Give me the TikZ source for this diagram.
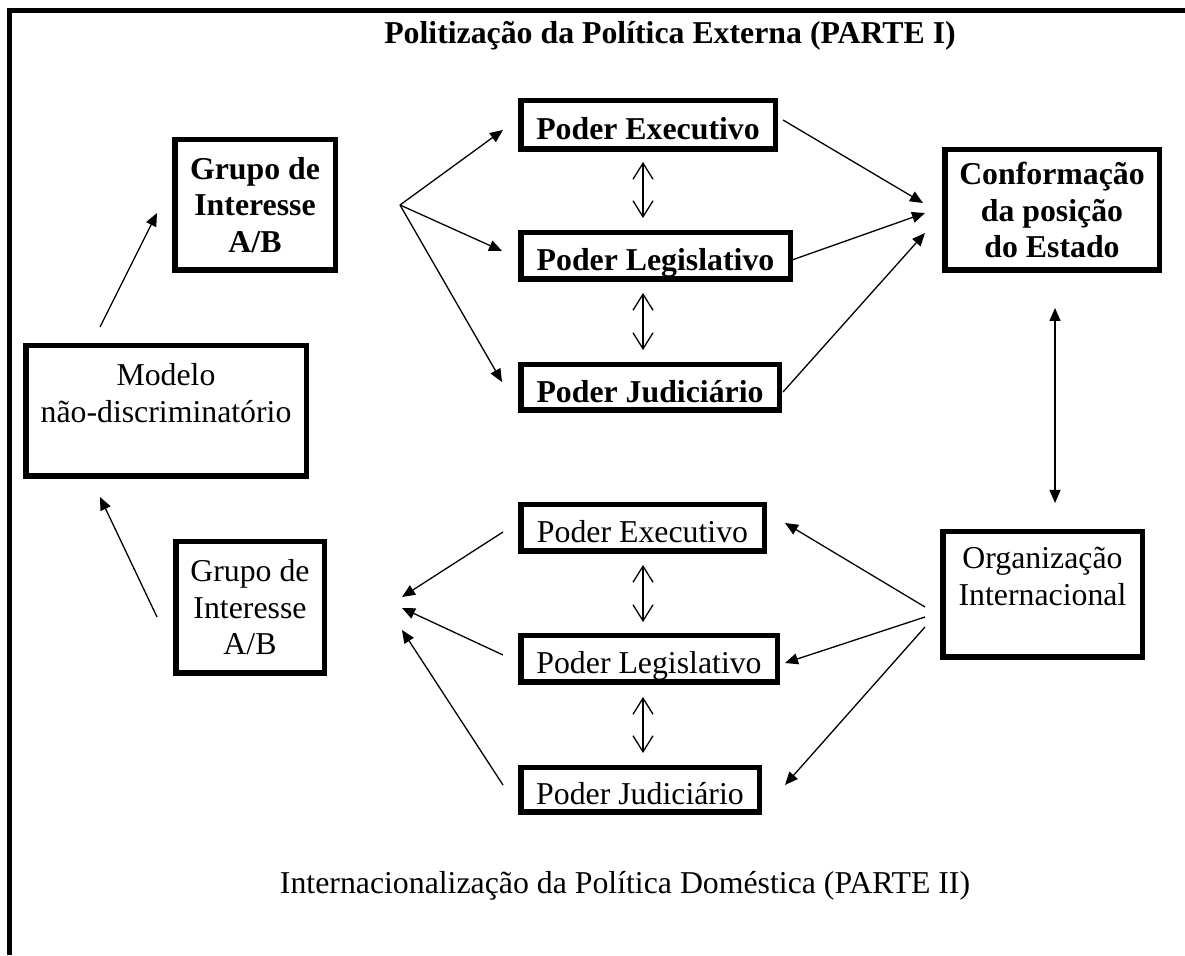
\documentclass[tikz,border=0pt]{standalone}
\usepackage{fontspec}
\setmainfont{Liberation Serif}
\usetikzlibrary{arrows.meta, calc}
\newcommand{\boxfont}{\fontsize{31.8pt}{36.6pt}\selectfont}

\begin{document}
\begin{tikzpicture}[x=1pt, y=1pt,
  box/.style={draw, line width=5.5pt, inner sep=0pt, align=center, font=\boxfont},
  bbox/.style={box, font=\boxfont\bfseries},
  low/.style={text height=30pt, text depth=0pt},
  arr/.style={line width=1.3pt, -{Triangle[length=13pt, width=11pt]}},
  twoway/.style={line width=1.3pt, {Triangle[length=13pt, width=11pt]}-{Triangle[length=13pt, width=11pt]}},
  dbl/.style={line width=1.3pt, {Straight Barb[length=16pt, width=20pt]}-{Straight Barb[length=16pt, width=20pt]}},
  edgeline/.style={line width=4.5pt}]
\useasboundingbox (0,0) rectangle (1185,955);
\draw[edgeline] (9.5,0) -- (9.5,944.5) -- (1185,944.5);
% parte I
\node[font=\boxfont\bfseries, anchor=base] (title) at (670,911) {Politização da Política Externa (PARTE I)};
\node[bbox, minimum width=160.5pt, minimum height=130.5pt] (grpA) at (255,750) {Grupo de\\Interesse\\A/B};
\node[bbox, low, minimum width=254.5pt, minimum height=48.5pt] (exA) at (648,830) {Poder Executivo};
\node[bbox, low, minimum width=269.5pt, minimum height=46.5pt] (legA) at (655.5,699) {Poder Legislativo};
\node[bbox, low, minimum width=258.5pt, minimum height=45.5pt] (judA) at (650,567.5) {Poder Judiciário};
\node[bbox, minimum width=214.5pt, minimum height=120.5pt] (conf) at (1052,745) {Conformação\\da posição\\do Estado};
\node[box, minimum width=280.5pt, minimum height=130.5pt] (mod) at (166,544) {Modelo\\não-discriminatório\\\mbox{}};
\coordinate (fanA) at (400,750);
\draw[arr] ([shift={(-66,16)}]mod.north) -- ([shift={(-15,-8)}]grpA.west);
\draw[arr] (fanA) -- ([shift={(-15,-5)}]exA.west);
\draw[arr] (fanA) -- ([shift={(-16,5)}]legA.west);
\draw[arr] (fanA) -- ([shift={(-16,5.5)}]judA.west);
\draw[arr] ([shift={(5,5)}]exA.east) -- ([shift={(-19,7)}]conf.west);
\draw[arr] ([shift={(-1,-4)}]legA.east) -- ([shift={(-17,-3)}]conf.west);
\draw[arr] ([shift={(1,-4.5)}]judA.east) -- ([shift={(-17,-23)}]conf.west);
\draw[dbl] ([shift={(-5,-10)}]exA.south) -- ([shift={(-5,12)}]exA.south |- legA.north);
\draw[dbl] ([shift={(-12.5,-11)}]legA.south) -- ([shift={(-12.5,12)}]legA.south |- judA.north);
% parte II
\node[box, minimum width=148.5pt, minimum height=131.5pt] (grpB) at (250,347.5) {Grupo de\\Interesse\\A/B};
\node[box, low, minimum width=243.5pt, minimum height=46.5pt] (exB) at (642.5,427) {Poder Executivo};
\node[box, low, minimum width=256.5pt, minimum height=46.5pt] (legB) at (649,296) {Poder Legislativo};
\node[box, low, minimum width=238.5pt, minimum height=44.5pt] (judB) at (640,165) {Poder Judiciário};
\node[box, minimum width=199.5pt, minimum height=125.5pt] (org) at (1042.5,360.5) {Organização\\Internacional\\\mbox{}};
\node[font=\boxfont, anchor=base] (caption) at (625,61) {Internacionalização da Política Doméstica (PARTE II)};
\draw[twoway] ([shift={(3,-35)}]conf.south) -- ([shift={(3,26)}]conf.south |- org.north);
\draw[arr] ([shift={(-16,-9.5)}]grpB.west) -- ([shift={(-66,-18)}]mod.south);
\draw[arr] ([shift={(-15,-4)}]exB.west) -- ([shift={(75,10.5)}]grpB.east);
\draw[arr] ([shift={(-15,4)}]legB.west) -- ([shift={(75,-0.5)}]grpB.east);
\draw[arr] ([shift={(-15,5)}]judB.west) -- ([shift={(75,-22.5)}]grpB.east);
\draw[arr] ([shift={(-15,-12.5)}]org.west) -- ([shift={(18,5)}]exB.east);
\draw[arr] ([shift={(-15,-22.5)}]org.west) -- ([shift={(5,-4)}]legB.east);
\draw[arr] ([shift={(-15,-32.5)}]org.west) -- ([shift={(23,5)}]judB.east);
\draw[dbl] ([shift={(0.5,-11)}]exB.south) -- ([shift={(0.5,11)}]exB.south |- legB.north);
\draw[dbl] ([shift={(-6,-12)}]legB.south) -- ([shift={(-6,12)}]legB.south |- judB.north);
\end{tikzpicture}
\end{document}
